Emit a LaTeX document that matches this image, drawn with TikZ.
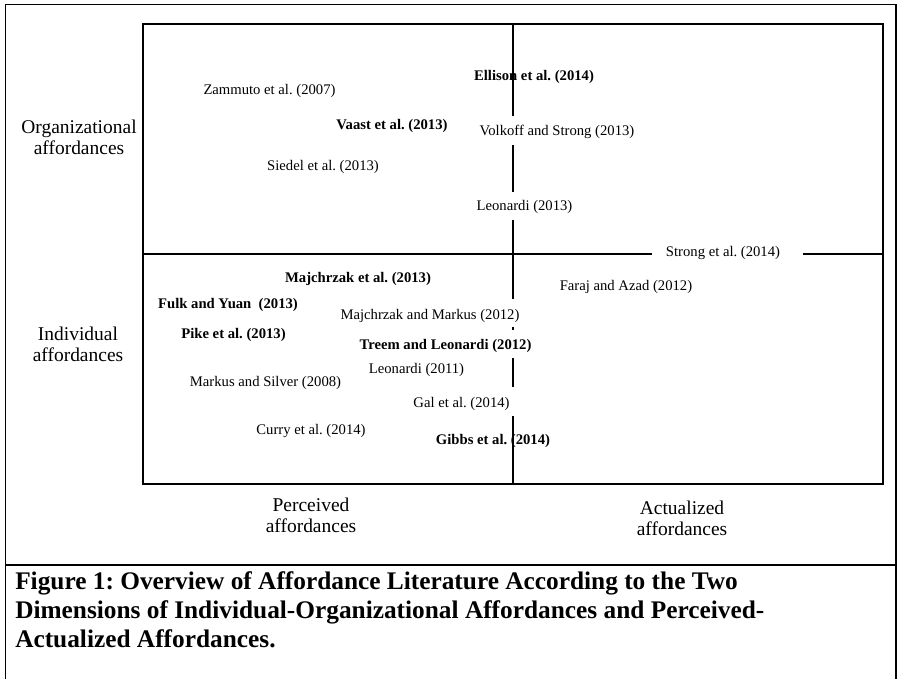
\documentclass[tikz,border=0pt]{standalone}
\usepackage{fontspec}
\setmainfont{Liberation Serif}
\frenchspacing
\begin{document}
\begin{tikzpicture}[x=0.75pt,y=-0.75pt,
  lbl/.style={font=\fontsize{11}{13}\selectfont, inner sep=0pt},
  blbl/.style={font=\fontsize{11}{13}\selectfont\bfseries, inner sep=0pt},
  axlbl/.style={font=\fontsize{14.6}{15.75}\selectfont, inner sep=0pt, align=center},
  caption/.style={font=\fontsize{19}{21.75}\selectfont\bfseries, inner sep=0pt, anchor=base west},
  outerline/.style={line width=1.2pt, line cap=rect},
  axisline/.style={line width=1pt}]
\useasboundingbox (0,0) rectangle (899,678);

% outer frame
\coordinate (fbl) at (5.5,679);
\coordinate (ftl) at (5.5,4.5);
\coordinate (ftr) at (896,4.5);
\coordinate (fbr) at (896,679);
\coordinate (sepl) at (5.5,565);
\coordinate (sepr) at (896,565);
\draw[outerline] (fbl) -- (ftl) -- (ftr) -- (fbr);
\draw[outerline] (sepl) -- (sepr);

% inner box
\coordinate (bnw) at (143,24);
\coordinate (bse) at (883,484);
\draw[axisline] (bnw) rectangle (bse);

% side and bottom labels
\node[axlbl] (org) at (79,137.5) {Organizational\\affordances};
\node[axlbl] (ind) at (78,344) {Individual\\affordances};
\node[axlbl] (perc) at (311,515.5) {Perceived\\affordances};
\node[axlbl] (actu) at (682,518.5) {Actualized\\affordances};

% upper half
\node[lbl]  (zam)     at (269.5,91) {Zammuto et al. (2007)};
\node[blbl] (ellison) at (534,77) {Ellison et al. (2014)};
\node[blbl] (vaast)   at (392,126) {Vaast et al. (2013)};
\node[lbl]  (volkoff) at (557,132) {Volkoff and Strong (2013)};
\node[lbl]  (siedel)  at (323,167) {Siedel et al. (2013)};
\node[lbl]  (leo13)   at (524.5,207) {Leonardi (2013)};
\node[lbl]  (strong)  at (723,253) {Strong et al. (2014)};

% lower half
\node[blbl] (majc13) at (358,279) {Majchrzak et al. (2013)};
\node[lbl]  (faraj)  at (626,287) {Faraj and Azad (2012)};
\node[blbl] (fulk)   at (228,305) {Fulk and Yuan\ \ (2013)};
\node[lbl]  (majmar) at (430,316) {Majchrzak and Markus (2012)};
\node[blbl] (pike)   at (233.5,335) {Pike et al. (2013)};
\node[blbl] (treem)  at (445.5,346) {Treem and Leonardi (2012)};
\node[lbl]  (leo11)  at (416.5,370) {Leonardi (2011)};
\node[lbl]  (markus) at (265.5,383) {Markus and Silver (2008)};
\node[lbl]  (gal)    at (461.5,404) {Gal et al. (2014)};
\node[lbl]  (curry)  at (311,431) {Curry et al. (2014)};
\node[blbl] (gibbs)  at (493,441) {Gibbs et al. (2014)};

% horizontal axis (with gap for Strong et al.)
\coordinate (hl0) at (143,254);
\coordinate (hl1) at (652,254);
\coordinate (hr0) at (803,254);
\coordinate (hr1) at (883,254);
\draw[axisline] (hl0) -- (hl1);
\draw[axisline] (hr0) -- (hr1);

% vertical axis (segmented)
\coordinate (v0) at (513,24);
\coordinate (v1) at (513,116);
\coordinate (v2) at (513,145);
\coordinate (v3) at (513,192);
\coordinate (v4) at (513,220);
\coordinate (v5) at (513,299);
\coordinate (v6) at (513,326.5);
\coordinate (v7) at (513,329.5);
\coordinate (v8) at (513,358);
\coordinate (v9) at (513,387);
\coordinate (v10) at (513,416);
\coordinate (v11) at (513,484);
\draw[axisline] (v0) -- (v1);
\draw[axisline] (v2) -- (v3);
\draw[axisline] (v4) -- (v5);
\draw[axisline] (v6) -- (v7);
\draw[axisline] (v8) -- (v9);
\draw[axisline] (v10) -- (v11);

% caption
\node[caption] (cap1) at (15,589) {Figure 1: Overview of Affordance Literature According to the Two};
\node[caption] (cap2) at (15,618) {Dimensions of Individual-Organizational Affordances and Perceived-};
\node[caption] (cap3) at (15,647) {Actualized Affordances.};
\end{tikzpicture}
\end{document}
